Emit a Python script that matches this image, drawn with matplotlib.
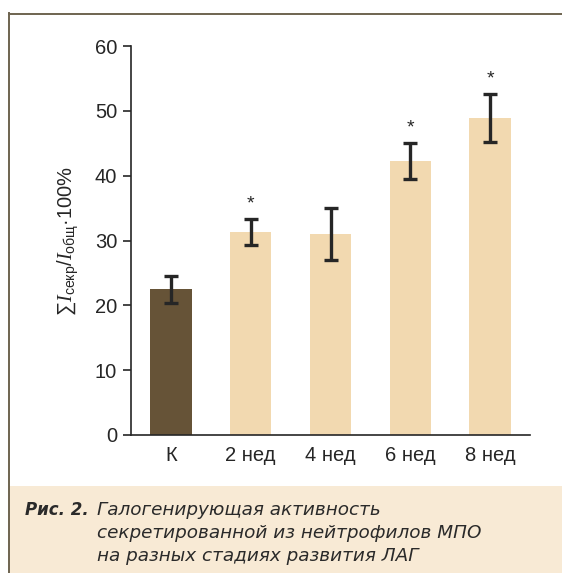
import matplotlib
matplotlib.use("Agg")
import matplotlib.pyplot as plt
from matplotlib.patches import Rectangle
from matplotlib.lines import Line2D

categories = ["К", "2 нед", "4 нед", "6 нед", "8 нед"]
values = [22.5, 31.3, 31.0, 42.3, 48.9]
errors = [2.1, 2.0, 4.0, 2.75, 3.75]
significant = [False, True, False, True, True]
yticks = [0, 10, 20, 30, 40, 50, 60]

plt.rcParams['font.family'] = ['Liberation Sans', 'DejaVu Sans']
plt.rcParams['mathtext.fontset'] = 'custom'
plt.rcParams['mathtext.rm'] = 'Liberation Sans'
plt.rcParams['mathtext.it'] = 'Liberation Serif:italic'
plt.rcParams['mathtext.sf'] = 'Liberation Sans'

W, H = 562, 573
fig = plt.figure(figsize=(W / 100, H / 100), dpi=100)

# frame and caption box
frame_col = '#6e6450'
fig.patches.append(Rectangle((9 / W, 0), 1, 1 - 486 / H, transform=fig.transFigure,
                             facecolor='#f8ead5', edgecolor='none', zorder=0))
fig.lines.append(Line2D([9 / W, 9 / W], [0, 1 - 13 / H], transform=fig.transFigure,
                        color=frame_col, lw=1.4))
fig.lines.append(Line2D([9 / W, 1], [1 - 13.5 / H, 1 - 13.5 / H], transform=fig.transFigure,
                        color=frame_col, lw=1.4))

ax = fig.add_axes([131 / W, 1 - 435 / H, (530 - 131) / W, (435 - 46) / H])
colors = ['#665337'] + ['#f2d9b0'] * (len(values) - 1)
x = list(range(len(values)))
ax.bar(x, values, width=0.52, color=colors, zorder=2)
ax.errorbar(x, values, yerr=errors, fmt='none', ecolor='#262626', elinewidth=2.4,
            capsize=5, capthick=2.4, zorder=3)
for xi, v, e, s in zip(x, values, errors, significant):
    if s:
        ax.text(xi, v + e + 1.0, '*', ha='center', va='bottom', fontsize=14, color='#262626')

ax.set_xlim(-0.5, 4.5)
ax.set_ylim(0, 60)
ax.set_yticks(yticks)
ax.set_xticks(x)
ax.set_xticklabels(categories)
for s in ['top', 'right']:
    ax.spines[s].set_visible(False)
for s in ['left', 'bottom']:
    ax.spines[s].set_linewidth(1.2)
    ax.spines[s].set_color('#262626')
ax.tick_params(axis='y', direction='out', length=6, width=1.2, labelsize=14.5,
               colors='#262626', pad=4)
ax.tick_params(axis='x', length=0, labelsize=14.5, colors='#262626', pad=8)
ax.set_ylabel(r'$\sum I_{\mathrm{секр}}/I_{\mathrm{общ}}$·100%', fontsize=14.5,
              color='#262626', labelpad=10)

# caption
cap_col = '#2a2a2a'
fig.text(25 / W, 1 - 510 / H, 'Рис. 2.', fontsize=12, fontweight='bold', fontstyle='italic',
         family='DejaVu Sans', color=cap_col, va='center', ha='left')
lines = ['Галогенирующая активность',
         'секретированной из нейтрофилов МПО',
         'на разных стадиях развития ЛАГ']
for i, t in enumerate(lines):
    fig.text(97 / W, 1 - (510 + 23 * i) / H, t, fontsize=13.2, fontstyle='italic',
             family='DejaVu Sans', color=cap_col, va='center', ha='left')

fig.savefig('out.png', dpi=100)
